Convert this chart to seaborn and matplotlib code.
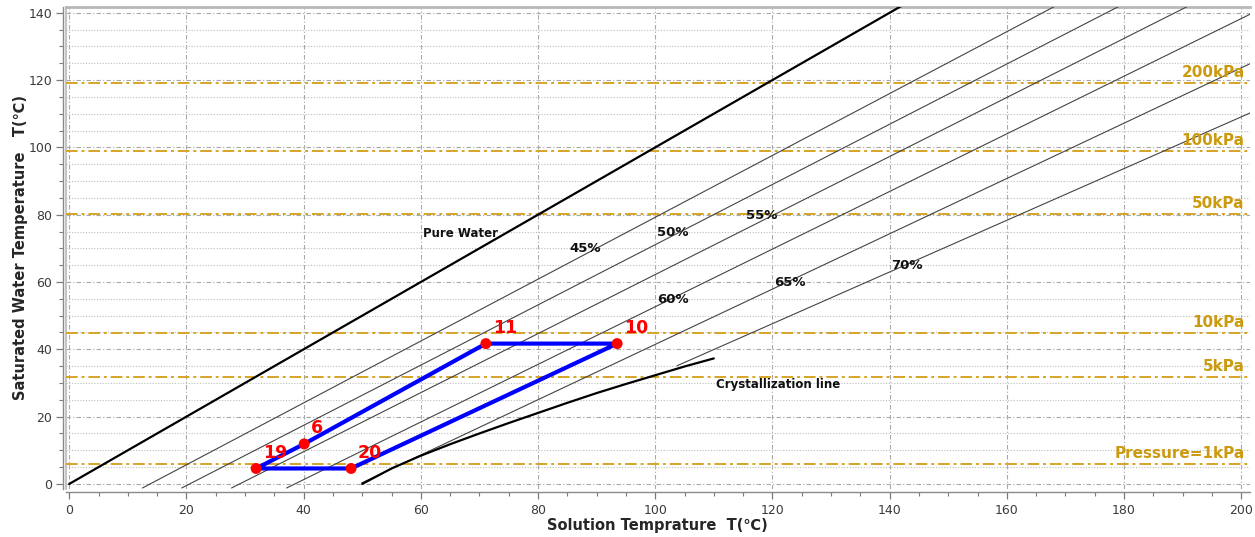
import numpy as np
import pandas as pd
import matplotlib
matplotlib.use('Agg')
import matplotlib.pyplot as plt
import seaborn as sns
from matplotlib.lines import Line2D
from matplotlib.ticker import MultipleLocator

# ---------------- data ----------------
pressure_labels = ['Pressure=1kPa', '5kPa', '10kPa', '50kPa', '100kPa', '200kPa']
pressure_sat_temps = [6.0, 31.9, 44.8, 80.3, 98.8, 119.0]

conc_labels = ['45%', '50%', '55%', '60%', '65%', '70%']
conc_start_T = [12.5, 19.2, 27.7, 37.1, 49.9, 103.7]
conc_start_Tsat = [-1.2, -1.2, -1.2, -1.2, 0.3, 35.1]
conc_end_T = [177.0, 188.2, 200.1, 213.7, 232.1, 253.3]
conc_end_Tsat = [150.0, 150.0, 150.0, 150.0, 150.0, 150.0]
conc_label_T = [88.0, 103.0, 118.1, 103.0, 123.0, 143.0]
conc_label_Tsat = [70.1, 74.8, 79.9, 54.9, 60.0, 64.8]

pure_T = [0.0, 150.0]
pure_Tsat = [0.0, 150.0]
pure_label_pos = (66.7, 74.5)

cryst_T = [50, 55, 60, 65, 70, 75, 80, 85, 90, 95, 100, 105, 110]
cryst_Tsat = [0.0, 4.6, 8.4, 11.8, 15.0, 18.1, 21.1, 24.1, 27.0, 29.7, 32.3, 34.9, 37.3]
cryst_label_pos = (121.0, 29.5)

state_ids = ['19', '6', '11', '10', '20']
state_T = [31.9, 40.1, 71.1, 93.5, 48.1]
state_Tsat = [4.6, 11.9, 41.7, 41.7, 4.6]
cycle_order = ['19', '6', '11', '10', '20', '19']

# ---------------- style ----------------
sns.set_style('white')
plt.rcParams['font.family'] = ['DejaVu Sans']

GOLD_LINE = '#D6A426'
GOLD_TEXT = '#CC9A0E'

fig = plt.figure(figsize=(12.55, 5.37), dpi=100)
ax = fig.add_axes([65.7 / 1255, 1 - 489 / 537, (1250 - 65.7) / 1255, (489 - 6.7) / 537])

ax.set_xlim(-0.6, 201.5)
ax.set_ylim(-1.5, 141.8)

# grid
ax.set_axisbelow(True)
ax.xaxis.set_major_locator(MultipleLocator(20))
ax.xaxis.set_minor_locator(MultipleLocator(5))
ax.yaxis.set_major_locator(MultipleLocator(20))
ax.yaxis.set_minor_locator(MultipleLocator(5))
ax.xaxis.grid(True, which='major', ls=(0, (4, 2, 1, 2)), color='#a8a8a8', lw=0.8)
ax.yaxis.grid(True, which='major', ls=(0, (4, 2, 1, 2)), color='#a8a8a8', lw=0.8)
ax.yaxis.grid(True, which='minor', ls=(0, (1, 1.5)), color='#bdbdbd', lw=0.8)

# pressure lines
for lbl, p in zip(pressure_labels, pressure_sat_temps):
    ax.axhline(p, color=GOLD_LINE, lw=1.4, ls=(0, (6, 2, 1.5, 2)), zorder=2)
    ax.annotate(lbl, xy=(200.6, p), xytext=(0, 4.3), textcoords='offset points',
                ha='right', va='baseline', color=GOLD_TEXT, fontsize=11,
                fontweight='bold', zorder=6)

# concentration (Duhring) lines
for lbl, x0, y0, x1, y1, lx, ly in zip(conc_labels, conc_start_T, conc_start_Tsat,
                                       conc_end_T, conc_end_Tsat,
                                       conc_label_T, conc_label_Tsat):
    sns.lineplot(x=[x0, x1], y=[y0, y1], color='#444444', lw=0.8, ax=ax,
                 estimator=None, sort=False, zorder=3)
    ax.text(lx, ly, lbl, ha='center', va='center', fontsize=9.5,
            fontweight='bold', color='#111111', zorder=6)

# pure water line
sns.lineplot(x=pure_T, y=pure_Tsat, color='black', lw=1.6, ax=ax,
             estimator=None, sort=False, zorder=3)
ax.text(pure_label_pos[0], pure_label_pos[1], 'Pure Water', ha='center', va='center',
        fontsize=8.5, fontweight='bold', color='#111111', zorder=6)

# crystallization line
sns.lineplot(x=cryst_T, y=cryst_Tsat, color='black', lw=1.6, ax=ax,
             estimator=None, sort=False, zorder=3)
ax.text(cryst_label_pos[0], cryst_label_pos[1], 'Crystallization line', ha='center',
        va='center', fontsize=8.5, fontweight='bold', color='#111111', zorder=6)

# cycle
pos = {s: (t, ts) for s, t, ts in zip(state_ids, state_T, state_Tsat)}
cycle_df = pd.DataFrame({'T': [pos[s][0] for s in cycle_order],
                         'Tsat': [pos[s][1] for s in cycle_order],
                         'order': range(len(cycle_order))})
sns.lineplot(data=cycle_df, x='T', y='Tsat', sort=False, estimator=None,
             color='#0000ff', lw=3.0, ax=ax, zorder=4)
sns.scatterplot(x=state_T, y=state_Tsat, color='#ff0000', s=62, edgecolor='none',
                ax=ax, zorder=5, legend=False)
for s, t, ts in zip(state_ids, state_T, state_Tsat):
    ax.annotate(s, xy=(t, ts), xytext=(5, 7.5), textcoords='offset points',
                ha='left', va='baseline', color='#ff0000', fontsize=12.5,
                fontweight='bold', zorder=7)

# spines / frame
ax.spines['right'].set_visible(False)
ax.spines['top'].set_color('#b8b8b8')
ax.spines['top'].set_linewidth(2)
for side in ('left', 'bottom'):
    ax.spines[side].set_position(('outward', 2.3))
    ax.spines[side].set_color('#8a8a8a')
    ax.spines[side].set_linewidth(1.0)
ax.add_line(Line2D([0, 0], [0, 1], transform=ax.transAxes, color='#c4c4c4',
                   lw=1.5, clip_on=False, zorder=1))

ax.tick_params(axis='both', which='major', direction='out', length=5, width=0.9,
               color='#7a7a7a', labelsize=9, labelcolor='#3a3a3a')
ax.tick_params(axis='both', which='minor', direction='out', length=3, width=0.8,
               color='#7a7a7a')
ax.tick_params(axis='y', which='major', pad=2.5)
ax.tick_params(axis='x', which='major', pad=3.5)
ax.tick_params(bottom=True, left=True, which='both')

ax.set_xlabel('Solution Temprature  T(℃)', fontsize=10.5, fontweight='bold',
              labelpad=1)
ax.set_ylabel('Saturated Water Temperature   T(℃)', fontsize=10.5,
              fontweight='bold', labelpad=0)

fig.savefig('out.png', dpi=100)
